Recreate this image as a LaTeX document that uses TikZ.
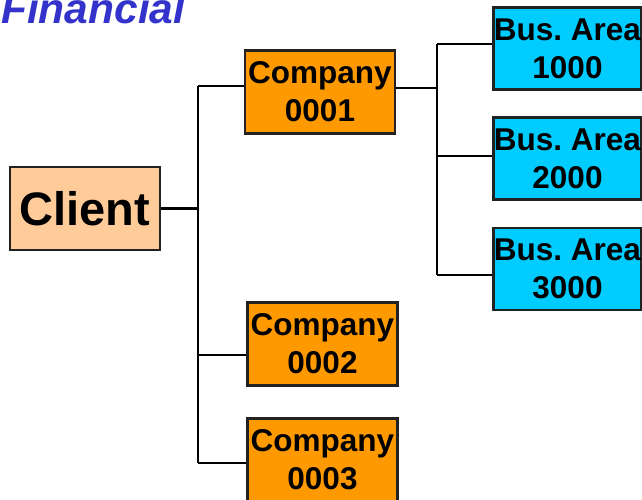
\documentclass[tikz,border=0pt]{standalone}
\usepackage{fontspec}
\setmainfont{Liberation Sans}
\frenchspacing
\definecolor{peach}{HTML}{FFCC99}
\definecolor{orng}{HTML}{FF9900}
\definecolor{cyanb}{HTML}{00CCFF}
\definecolor{titleblue}{HTML}{3333CC}
\definecolor{edge}{HTML}{222222}
\begin{document}
\begin{tikzpicture}[x=1pt,y=-1pt,
  box/.style={draw=edge,line width=2.2pt,inner sep=0pt,align=center,
    font=\fontsize{31.5}{38}\selectfont\bfseries\frenchspacing},
  clientbox/.style={box,fill=peach,minimum width=150pt,minimum height=83pt,
    font=\fontsize{47}{50}\selectfont\bfseries},
  compbox/.style={box,fill=orng,minimum width=150pt,minimum height=83pt},
  areabox/.style={box,fill=cyanb,minimum width=148pt,minimum height=82pt},
  link/.style={line width=2.2pt,black}]
\useasboundingbox (0,0) rectangle (642,500);
\node[anchor=base west,inner sep=0pt,text=titleblue,
  font=\fontsize{42.5}{46}\selectfont\bfseries\itshape] (title) at (1,24) {Financial};
\node[clientbox] (client) at (85,208.5) {Client};
\node[compbox] (c1) at (320,92) {Company\\0001};
\node[compbox] (c2) at (322.5,344) {Company\\0002};
\node[compbox] (c3) at (322.5,460) {Company\\0003};
\node[areabox] (b1) at (567.5,48.5) {Bus. Area\\1000};
\node[areabox] (b2) at (567.5,158.5) {Bus. Area\\2000};
\node[areabox] (b3) at (567.5,269) {Bus. Area\\3000};
\coordinate (sT) at (198,86);
\coordinate (s2) at (198,355);
\coordinate (sB) at (198,463);
\coordinate (tT) at (437,44);
\coordinate (t1) at (437,88);
\coordinate (t2) at (437,156);
\coordinate (tB) at (437,275);
\draw[link] (sT) -- (sB);
\draw[link] (client.east) -- (client.east -| sT);
\draw[link] (sT) -- (sT -| c1.west);
\draw[link] (s2) -- (s2 -| c2.west);
\draw[link] (sB) -- (sB -| c3.west);
\draw[link] (tT) -- (tB);
\draw[link] (t1 -| c1.east) -- (t1);
\draw[link] (tT) -- (tT -| b1.west);
\draw[link] (t2) -- (t2 -| b2.west);
\draw[link] (tB) -- (tB -| b3.west);
\end{tikzpicture}
\end{document}
